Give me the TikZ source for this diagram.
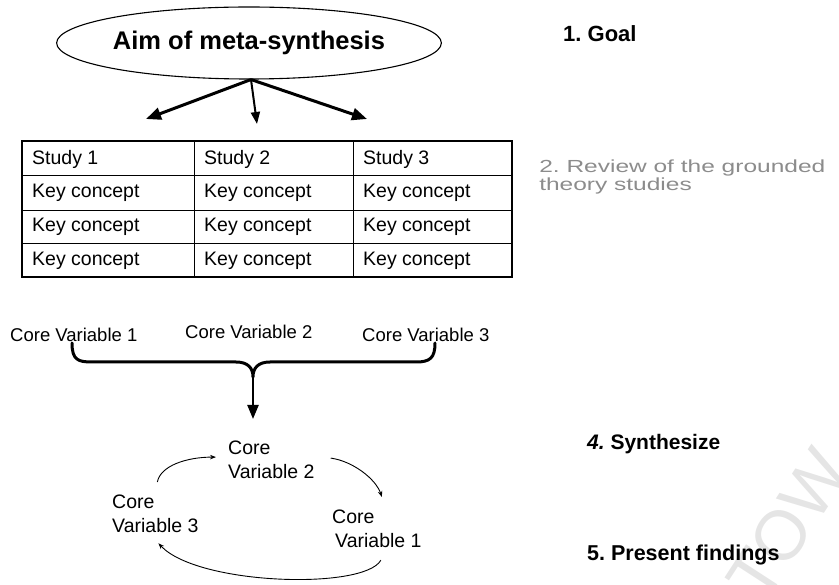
\documentclass[tikz,border=0pt]{standalone}
\usepackage{fontspec}
\setmainfont{Liberation Sans}
\usetikzlibrary{shapes.geometric,arrows.meta}
\frenchspacing

\tikzset{
  goal/.style={draw, line width=1.1pt, ellipse, inner sep=0pt,
    minimum width=374pt, minimum height=72pt,
    font=\fontsize{25.5}{28}\selectfont\bfseries},
  bigarrow/.style={line width=3pt, -{Triangle[length=15pt,width=12pt]}},
  midarrow/.style={line width=2pt, -{Triangle[length=12pt,width=9pt]}},
  cell/.style={anchor=west, inner sep=0pt, font=\fontsize{19.5}{22}\selectfont},
  steplabel/.style={anchor=base west, inner sep=0pt,
    font=\fontsize{22}{26}\selectfont\bfseries},
  corevar/.style={anchor=base west, inner sep=0pt,
    font=\fontsize{18.5}{22}\selectfont},
  cyclevar/.style={anchor=north west, inner sep=0pt, align=left,
    font=\fontsize{19.5}{24}\selectfont},
  cyclearrow/.style={line width=0.9pt, -{Stealth[length=6pt,width=4.5pt]}},
  bracepath/.style={line width=3pt, line cap=round, line join=round},
}

\begin{document}
\begin{tikzpicture}[x=1pt, y=-1pt]
  \useasboundingbox (0,0) rectangle (839,585);
  \clip (0,0) rectangle (839,585);

  % faint watermark letters in the lower right corner
  \node[anchor=base west, inner sep=0pt, rotate=57, text=black!10,
        font=\fontsize{70}{70}\selectfont] (mark) at (764,606) {TOW};

  % 1. goal
  \node[goal] (aim) at (249,43) {Aim of meta-synthesis};
  \node[steplabel] (goal) at (563,42) {1. Goal};

  \coordinate (toL) at (146,119);
  \coordinate (toM) at (257,124);
  \coordinate (toR) at (367,119);
  \draw[bigarrow] ([xshift=2pt]aim.south) -- (toL);
  \draw[midarrow] ([xshift=2pt]aim.south) -- (toM);
  \draw[bigarrow] ([xshift=2pt]aim.south) -- (toR);

  % 2. table of the reviewed studies
  \draw[line width=0.9pt] (22,175) -- (512,175) (22,210) -- (512,210) (22,243) -- (512,243)
                          (194,141) -- (194,277) (353,141) -- (353,277);
  \draw[line width=1.8pt] (22,141) rectangle (512,277);
  \node[cell] (s1) at (32,159) {Study 1};
  \node[cell] (s2) at (204,159) {Study 2};
  \node[cell] (s3) at (363,159) {Study 3};
  \foreach \r/\y in {1/193, 2/227, 3/261} {
    \node[cell] (k\r a) at (32,\y) {Key concept};
    \node[cell] (k\r b) at (204,\y) {Key concept};
    \node[cell] (k\r c) at (363,\y) {Key concept};
  }
  \node[anchor=base west, inner sep=0pt, text=black!45, xscale=1.4, transform shape,
        font=\fontsize{17.5}{16}\selectfont] (review) at (539,173)
        {\begin{tabular}[t]{@{}l@{}}2. Review of the grounded\\theory studies\end{tabular}};

  % core variables drawn together by a brace
  \node[corevar] (cvA) at (10,342) {Core Variable 1};
  \node[corevar] (cvB) at (185,339) {Core Variable 2};
  \node[corevar] (cvC) at (362,342) {Core Variable 3};

  \coordinate (brL) at (72,343);
  \coordinate (brM) at (253,377);
  \coordinate (brR) at (435,343);
  \coordinate (down) at (253,419);
  \draw[bracepath] (brL) .. controls (72,360) and (78,362) .. (92,362) -- (236,362)
        .. controls (248,362) and (253,368) .. (brM)
        .. controls (253,368) and (258,362) .. (270,362) -- (416,362)
        .. controls (430,362) and (435,358) .. (brR);
  \draw[line width=2.2pt, -{Triangle[length=14pt,width=11pt]}] (brM) -- (down);

  % 4. synthesis cycle
  \node[steplabel, font=\fontsize{21}{26}\selectfont\bfseries] (synth) at (587,450)
        {\textit{4.} Synthesize};
  \node[cyclevar] (cv2) at (228,441) {Core\\Variable 2};
  \node[cyclevar] (cv3) at (112,495) {Core\\Variable 3};
  \node[cyclevar] (cv1) at (332,510) {Core\\\hspace{3pt}Variable 1};

  \draw[cyclearrow] ([xshift=2pt,yshift=13pt]cv3.north)
        .. controls +(3,-16) and +(-30,0) .. ([xshift=-12pt,yshift=3pt]cv2.west);
  \draw[cyclearrow] ([xshift=16pt,yshift=2pt]cv2.east)
        .. controls +(22,3) and +(-6,-18) .. ([xshift=5pt,yshift=13pt]cv1.north);
  \draw[cyclearrow] ([xshift=4pt,yshift=-12pt]cv1.south)
        .. controls +(-17,30) and +(39,42) .. ([xshift=3pt,yshift=-10pt]cv3.south);

  % 5. findings
  \node[steplabel, font=\fontsize{21.5}{26}\selectfont\bfseries] (present) at (587,560)
        {5. Present findings};
\end{tikzpicture}
\end{document}
